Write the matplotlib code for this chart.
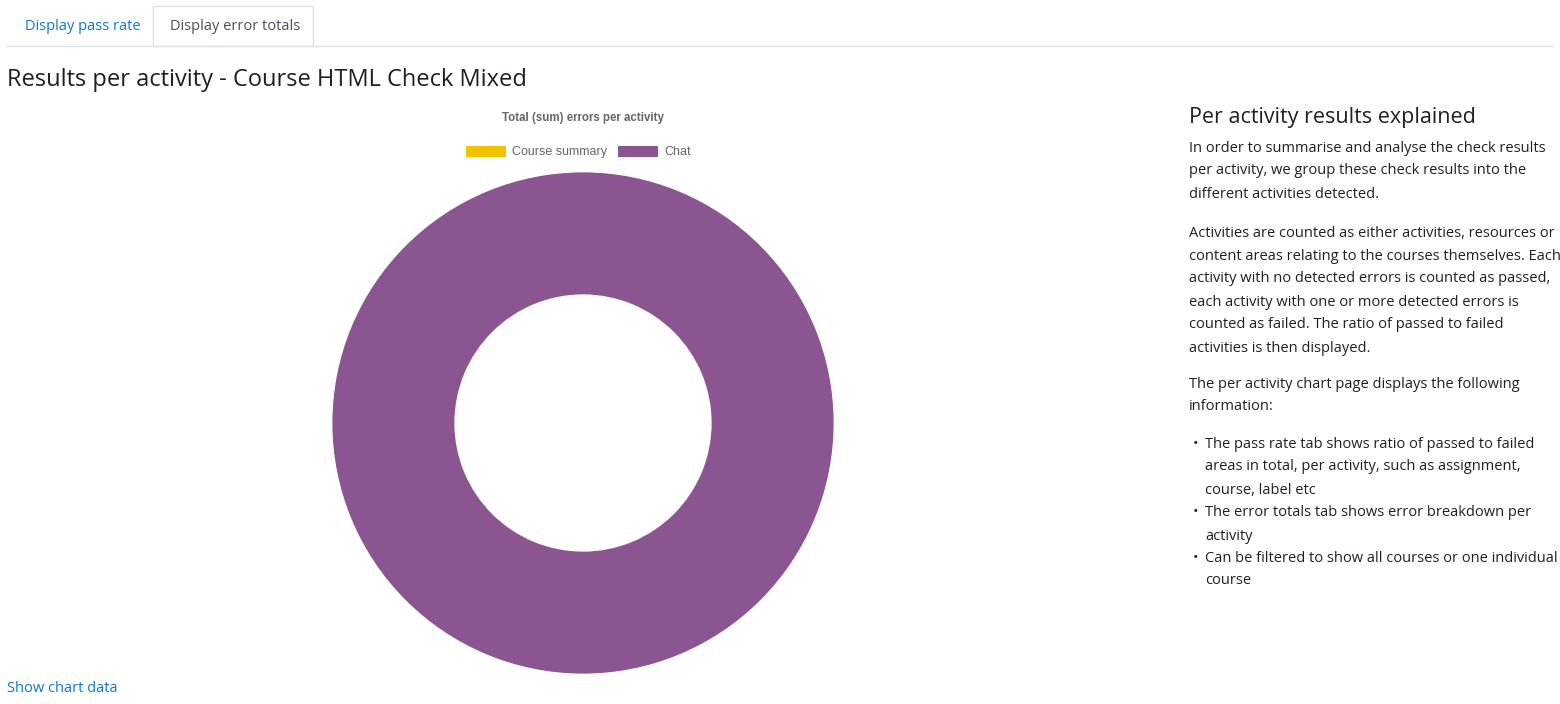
import matplotlib.pyplot as plt
from matplotlib.patches import Rectangle

W, H = 1560, 704

labels = ["Course summary", "Chat"]
values = [0, 1]
colors = ["#f0c400", "#8a5590"]

page_title = "Results per activity - Course HTML Check Mixed"
chart_title = "Total (sum) errors per activity"
tabs = ["Display pass rate", "Display error totals"]
side_heading = "Per activity results explained"
side_lines = [
    (148, "In order to summarise and analyse the check results"),
    (171, "per activity, we group these check results into the"),
    (194, "different activities detected."),
    (233, "Activities are counted as either activities, resources or"),
    (256, "content areas relating to the courses themselves. Each"),
    (279, "activity with no detected errors is counted as passed,"),
    (302, "each activity with one or more detected errors is"),
    (325, "counted as failed. The ratio of passed to failed"),
    (348, "activities is then displayed."),
    (384, "The per activity chart page displays the following"),
    (407, "information:"),
]
bullets = [
    (444, ["The pass rate tab shows ratio of passed to failed",
           "areas in total, per activity, such as assignment,",
           "course, label etc"]),
    (513, ["The error totals tab shows error breakdown per", "activity"]),
    (558, ["Can be filtered to show all courses or one individual", "course"]),
]


def px(x, y):
    return x / W, 1 - y / H


fig = plt.figure(figsize=(W / 100, H / 100), dpi=100)
body = ["Open Sans", "DejaVu Sans"]
blue = "#1177d1"
dark = "#1d2125"

# tabs
fig.add_artist(plt.Line2D([7 / W, 1552 / W], [1 - 46 / H] * 2, color="#dee2e6", lw=1))
x0, y0 = px(153, 46)
fig.add_artist(Rectangle((x0, y0), 160 / W, 40 / H, transform=fig.transFigure,
                         facecolor="white", edgecolor="#dee2e6", lw=1))
fig.text(*px(25, 27), tabs[0], color=blue, fontsize=10.5, va="center", family=body)
fig.text(*px(170, 27), tabs[1], color="#495057", fontsize=10.5, va="center", family=body)

fig.text(*px(7, 80), page_title, color=dark, fontsize=17, va="center", family=body)

# chart title and legend
chart_font = ["Liberation Sans", "DejaVu Sans"]
fig.text(*px(583, 118), chart_title, color="#666666", fontsize=8.3, fontweight="bold",
         ha="center", va="center", family=chart_font)
for bx, lab, col in zip([466, 618], labels, colors):
    fig.add_artist(Rectangle(px(bx, 157), 40 / W, 11 / H, transform=fig.transFigure,
                             facecolor=col, edgecolor="none"))
    fig.text(*px(bx + 46, 152), lab, color="#666666", fontsize=9, va="center", family=chart_font)

# donut
ax = fig.add_axes([331 / W, 29 / H, 504 / W, 504 / H])
ax.pie(values, colors=colors, startangle=90, counterclock=False, radius=1,
       wedgeprops=dict(width=0.495, edgecolor="white", linewidth=2))
ax.set_xlim(-1, 1)
ax.set_ylim(-1, 1)
ax.set_aspect("equal")
ax.axis("off")

# side text
fig.text(*px(1189, 117), side_heading, color=dark, fontsize=15.5, va="center", family=body)
for y, line in side_lines:
    fig.text(*px(1189, y), line, color=dark, fontsize=10.5, va="center", family=body)
for y, lines in bullets:
    fig.text(*px(1193, y), "\u2022", color=dark, fontsize=10.5, va="center", family=body)
    for i, line in enumerate(lines):
        fig.text(*px(1205, y + 23 * i), line, color=dark, fontsize=10.5, va="center", family=body)

fig.text(*px(7, 689), "Show chart data", color=blue, fontsize=10.5, va="center", family=body)

fig.savefig("out.png", dpi=100)
